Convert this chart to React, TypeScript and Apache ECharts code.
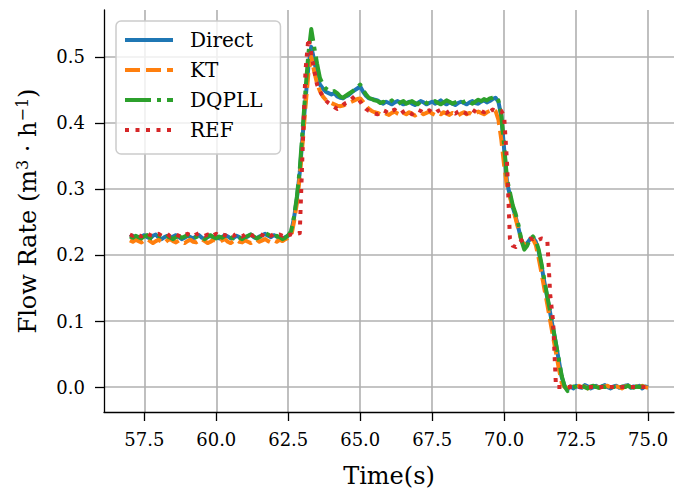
import React, { useEffect, useRef } from "react";
import * as echarts from "echarts";

// sample times (s)
const t = [
  57.0, 57.1, 57.2, 57.3, 57.4, 57.5, 57.6, 57.7, 57.8, 57.9,
  58.0, 58.1, 58.2, 58.3, 58.4, 58.5, 58.6, 58.7, 58.8, 58.9,
  59.0, 59.1, 59.2, 59.3, 59.4, 59.5, 59.6, 59.7, 59.8, 59.9,
  60.0, 60.1, 60.2, 60.3, 60.4, 60.5, 60.6, 60.7, 60.8, 60.9,
  61.0, 61.1, 61.2, 61.3, 61.4, 61.5, 61.6, 61.7, 61.8, 61.9,
  62.0, 62.1, 62.2, 62.3, 62.4, 62.5, 62.6, 62.7, 62.8, 62.9,
  63.0, 63.1, 63.2, 63.3, 63.4, 63.5, 63.6, 63.7, 63.8, 63.9,
  64.0, 64.1, 64.2, 64.3, 64.4, 64.5, 64.6, 64.7, 64.8, 64.9,
  65.0, 65.1, 65.2, 65.3, 65.4, 65.5, 65.6, 65.7, 65.8, 65.9,
  66.0, 66.1, 66.2, 66.3, 66.4, 66.5, 66.6, 66.7, 66.8, 66.9,
  67.0, 67.1, 67.2, 67.3, 67.4, 67.5, 67.6, 67.7, 67.8, 67.9,
  68.0, 68.1, 68.2, 68.3, 68.4, 68.5, 68.6, 68.7, 68.8, 68.9,
  69.0, 69.1, 69.2, 69.3, 69.4, 69.5, 69.6, 69.7, 69.8, 69.9,
  70.0, 70.1, 70.2, 70.3, 70.4, 70.5, 70.6, 70.7, 70.8, 70.9,
  71.0, 71.1, 71.2, 71.3, 71.4, 71.5, 71.6, 71.7, 71.8, 71.9,
  72.0, 72.1, 72.2, 72.3, 72.4, 72.5, 72.6, 72.7, 72.8, 72.9,
  73.0, 73.1, 73.2, 73.3, 73.4, 73.5, 73.6, 73.7, 73.8, 73.9,
  74.0, 74.1, 74.2, 74.3, 74.4, 74.5, 74.6, 74.7, 74.8, 74.9,
  75.0,
];

const direct = [
  // 57.0 - 62.5
  0.227, 0.229, 0.226, 0.224, 0.228, 0.230, 0.227, 0.225, 0.229, 0.231,
  0.226, 0.224, 0.227, 0.229, 0.226, 0.228, 0.230, 0.227, 0.224, 0.226,
  0.229, 0.227, 0.225, 0.228, 0.230, 0.226, 0.224, 0.227, 0.229, 0.226,
  0.228, 0.225, 0.227, 0.230, 0.228, 0.225, 0.226, 0.229, 0.227, 0.224,
  0.226, 0.228, 0.231, 0.227, 0.225, 0.228, 0.230, 0.232, 0.229, 0.227,
  0.230, 0.228, 0.226, 0.225, 0.227, 0.229,
  // 62.6 - 63.4
  0.234, 0.256, 0.285, 0.325, 0.380, 0.435, 0.485, 0.515, 0.495,
  // 63.5 - 65.5
  0.472, 0.458, 0.452, 0.447, 0.445, 0.443, 0.445, 0.440, 0.438, 0.437,
  0.440, 0.442, 0.446, 0.449, 0.452, 0.455, 0.447, 0.441, 0.437, 0.436,
  0.435,
  // 65.6 - 69.9
  0.434, 0.431, 0.429, 0.432, 0.430, 0.428, 0.431, 0.433, 0.430, 0.428,
  0.430, 0.432, 0.429, 0.427, 0.430, 0.433, 0.431, 0.428, 0.430, 0.432,
  0.429, 0.431, 0.434, 0.430, 0.428, 0.431, 0.429, 0.427, 0.430, 0.432,
  0.430, 0.428, 0.431, 0.433, 0.430, 0.429, 0.432, 0.434, 0.431, 0.433,
  0.436, 0.438, 0.432, 0.410,
  // 70.0 - 72.2
  0.360, 0.310, 0.290, 0.272, 0.258, 0.240, 0.222, 0.214, 0.218, 0.224,
  0.226, 0.220, 0.205, 0.183, 0.158, 0.135, 0.112, 0.088, 0.065, 0.040,
  0.015, 0.002, -0.004,
  // 72.3 - 75.0
  0.001, -0.002, 0.002, 0.000, -0.001, 0.003, 0.001, -0.002, 0.000, 0.002,
  -0.001, 0.001, 0.003, 0.000, -0.002, 0.001, 0.002, -0.001, 0.000, 0.002,
  0.003, -0.001, 0.001, 0.000, 0.002, -0.002, 0.001, 0.000,
];

const kt = [
  0.222, 0.220, 0.223, 0.221, 0.219, 0.222, 0.224, 0.221, 0.218, 0.221,
  0.223, 0.220, 0.218, 0.222, 0.224, 0.221, 0.219, 0.222, 0.220, 0.218,
  0.221, 0.223, 0.220, 0.219, 0.222, 0.224, 0.221, 0.218, 0.220, 0.223,
  0.221, 0.219, 0.222, 0.224, 0.220, 0.218, 0.221, 0.223, 0.220, 0.219,
  0.222, 0.220, 0.218, 0.221, 0.223, 0.220, 0.222, 0.224, 0.221, 0.219,
  0.222, 0.220, 0.223, 0.221, 0.224, 0.226,
  0.228, 0.250, 0.278, 0.318, 0.370, 0.425, 0.475, 0.500, 0.478,
  0.460, 0.448, 0.440, 0.435, 0.432, 0.430, 0.428, 0.426, 0.425, 0.426,
  0.428, 0.430, 0.432, 0.434, 0.436, 0.437, 0.432, 0.426, 0.421, 0.418,
  0.416,
  0.415, 0.413, 0.416, 0.414, 0.412, 0.415, 0.417, 0.414, 0.412, 0.415,
  0.413, 0.416, 0.414, 0.411, 0.414, 0.416, 0.413, 0.415, 0.417, 0.414,
  0.412, 0.415, 0.413, 0.416, 0.414, 0.412, 0.415, 0.413, 0.411, 0.414,
  0.416, 0.413, 0.415, 0.412, 0.414, 0.417, 0.415, 0.413, 0.416, 0.418,
  0.420, 0.418, 0.405, 0.375,
  0.335, 0.305, 0.288, 0.270, 0.255, 0.238, 0.222, 0.215, 0.218, 0.223,
  0.224, 0.215, 0.195, 0.172, 0.148, 0.125, 0.100, 0.076, 0.052, 0.028,
  0.006, 0.000, -0.002,
  0.001, 0.000, -0.001, 0.002, 0.000, 0.001, -0.002, 0.000, 0.002, 0.001,
  -0.001, 0.000, 0.001, 0.002, -0.001, 0.000, 0.001, 0.000, -0.002, 0.001,
  0.002, 0.000, -0.001, 0.001, 0.000, 0.002, 0.000, -0.001,
];

const dqpll = [
  0.228, 0.226, 0.229, 0.227, 0.225, 0.228, 0.230, 0.226, 0.224, 0.227,
  0.229, 0.227, 0.225, 0.228, 0.226, 0.224, 0.227, 0.229, 0.226, 0.228,
  0.230, 0.227, 0.225, 0.227, 0.229, 0.226, 0.224, 0.228, 0.230, 0.227,
  0.225, 0.228, 0.226, 0.229, 0.231, 0.227, 0.225, 0.228, 0.226, 0.224,
  0.227, 0.229, 0.231, 0.228, 0.225, 0.227, 0.229, 0.233, 0.231, 0.228,
  0.226, 0.229, 0.227, 0.224, 0.226, 0.230,
  0.236, 0.258, 0.288, 0.330, 0.390, 0.450, 0.505, 0.542, 0.515,
  0.490, 0.468, 0.458, 0.452, 0.449, 0.447, 0.448, 0.445, 0.440, 0.438,
  0.441, 0.444, 0.447, 0.450, 0.454, 0.458, 0.450, 0.443, 0.438, 0.436,
  0.434,
  0.433, 0.430, 0.432, 0.429, 0.431, 0.434, 0.430, 0.428, 0.431, 0.433,
  0.429, 0.431, 0.433, 0.430, 0.428, 0.432, 0.434, 0.430, 0.429, 0.431,
  0.433, 0.430, 0.428, 0.431, 0.434, 0.432, 0.429, 0.431, 0.433, 0.430,
  0.432, 0.434, 0.431, 0.429, 0.432, 0.435, 0.433, 0.436, 0.434, 0.437,
  0.438, 0.440, 0.434, 0.412,
  0.365, 0.315, 0.295, 0.275, 0.262, 0.245, 0.222, 0.208, 0.214, 0.224,
  0.228, 0.222, 0.208, 0.186, 0.161, 0.137, 0.114, 0.090, 0.066, 0.042,
  0.017, 0.001, -0.006,
  -0.003, 0.001, 0.000, -0.001, 0.002, 0.000, -0.002, 0.001, 0.002, 0.000,
  -0.001, 0.001, 0.000, 0.002, -0.001, 0.000, 0.001, -0.002, 0.001, 0.000,
  0.002, 0.000, -0.001, 0.001, 0.000, 0.001, -0.001, 0.000,
];

const ref = [
  0.231, 0.229, 0.232, 0.230, 0.228, 0.231, 0.233, 0.230, 0.229, 0.231,
  0.232, 0.229, 0.230, 0.232, 0.228, 0.230, 0.231, 0.229, 0.227, 0.230,
  0.232, 0.230, 0.228, 0.231, 0.233, 0.230, 0.229, 0.231, 0.228, 0.230,
  0.232, 0.229, 0.231, 0.230, 0.228, 0.231, 0.229, 0.232, 0.230, 0.228,
  0.231, 0.233, 0.230, 0.229, 0.231, 0.232, 0.230, 0.228, 0.231, 0.229,
  0.232, 0.230, 0.231, 0.229, 0.232, 0.230,
  0.231, 0.229, 0.232, 0.233, 0.360, 0.480, 0.528, 0.505, 0.480,
  0.458, 0.448, 0.440, 0.434, 0.430, 0.427, 0.424, 0.421, 0.423, 0.427,
  0.430, 0.432, 0.436, 0.440, 0.438, 0.432, 0.426, 0.421, 0.418, 0.416,
  0.414,
  0.413, 0.416, 0.419, 0.417, 0.414, 0.418, 0.420, 0.416, 0.414, 0.417,
  0.419, 0.416, 0.413, 0.417, 0.420, 0.418, 0.415, 0.417, 0.419, 0.416,
  0.414, 0.418, 0.420, 0.417, 0.415, 0.418, 0.416, 0.414, 0.417, 0.419,
  0.416, 0.414, 0.418, 0.420, 0.417, 0.415, 0.418, 0.416, 0.419, 0.417,
  0.420, 0.418, 0.419, 0.418,
  0.410, 0.340, 0.225, 0.214, 0.212, 0.218, 0.222, 0.224, 0.223, 0.225,
  0.224, 0.226, 0.223, 0.225, 0.224, 0.222, 0.140, 0.100, 0.000, 0.000,
  0.000, 0.000, 0.000,
  0.000, 0.000, 0.000, 0.000, 0.000, 0.000, 0.000, 0.000, 0.000, 0.000,
  0.000, 0.000, 0.000, 0.000, 0.000, 0.000, 0.000, 0.000, 0.000, 0.000,
  0.000, 0.000, 0.000, 0.000, 0.000, 0.000, 0.000, 0.000,
];

const seriesNames = ["Direct", "KT", "DQPLL", "REF"];
const seriesColors = ["#1f77b4", "#ff7f0e", "#2ca02c", "#d62728"];
const xTicks = [57.5, 60.0, 62.5, 65.0, 67.5, 70.0, 72.5, 75.0];
const yTicks = [0.0, 0.1, 0.2, 0.3, 0.4, 0.5];

const FONT = "DejaVu Serif";

export default function App() {
  const ref1 = useRef<HTMLDivElement>(null);
  useEffect(() => {
    if (!ref1.current) return;
    const chart = echarts.init(ref1.current, null, { renderer: "svg" });
    const allValues = [direct, kt, dqpll, ref];
    const dashes: any[] = ["solid", [15, 6], [26, 6, 4, 6], [4, 6.5]];
    const series = seriesNames.map((name, k) => ({
      name,
      type: "line",
      data: t.map((x, i) => [x, allValues[k][i]]),
      symbol: "none",
      showSymbol: false,
      color: seriesColors[k],
      lineStyle: { color: seriesColors[k], width: 4, type: dashes[k], cap: "butt", join: "round" },
      z: 2 + k,
    }));
    chart.setOption({
      animation: false,
      backgroundColor: "#ffffff",
      textStyle: { fontFamily: FONT },
      grid: { left: 104, top: 10, width: 570, height: 404, containLabel: false },
      legend: {
        left: 116,
        top: 21,
        orient: "vertical",
        itemWidth: 48,
        itemHeight: 14,
        itemGap: 10,
        padding: [9, 18, 14, 7],
        backgroundColor: "rgba(255,255,255,0.8)",
        borderColor: "#cccccc",
        borderWidth: 1.5,
        borderRadius: 5,
        itemStyle: { opacity: 0 },
        lineStyle: { width: 4 },
        textStyle: { fontFamily: FONT, fontSize: 20, color: "#000", lineHeight: 20, padding: [0, 0, 0, 12] },
        data: seriesNames,
      },
      xAxis: {
        type: "value",
        min: 56.1,
        max: 75.9,
        name: "Time(s)",
        nameLocation: "middle",
        nameGap: 52,
        nameTextStyle: { fontFamily: FONT, fontSize: 24, color: "#000" },
        axisLine: { show: true, onZero: false, lineStyle: { color: "#000", width: 1.3 } },
        axisTick: { show: true, length: 9, customValues: xTicks, lineStyle: { color: "#000", width: 1.3 } },
        axisLabel: {
          customValues: xTicks,
          margin: 18,
          fontFamily: FONT,
          fontSize: 18,
          color: "#000",
          formatter: (v: number) => v.toFixed(1),
        },
        splitLine: { show: true, lineStyle: { color: "#b0b0b0", width: 1.6 } },
      },
      yAxis: {
        type: "value",
        min: -0.0377,
        max: 0.5708,
        name: "Flow Rate (m{sup|3} · h{sup|−1})",
        nameLocation: "middle",
        nameGap: 62,
        nameRotate: 90,
        nameTextStyle: {
          fontFamily: FONT,
          fontSize: 24,
          color: "#000",
          lineHeight: 28,
          rich: { sup: { fontFamily: FONT, fontSize: 16, color: "#000", verticalAlign: "top", lineHeight: 16 } },
        },
        axisLine: { show: true, lineStyle: { color: "#000", width: 1.3 } },
        axisTick: { show: true, length: 9, customValues: yTicks, lineStyle: { color: "#000", width: 1.3 } },
        axisLabel: {
          customValues: yTicks,
          margin: 19,
          fontFamily: FONT,
          fontSize: 18,
          color: "#000",
          formatter: (v: number) => v.toFixed(1),
        },
        splitLine: { show: true, lineStyle: { color: "#b0b0b0", width: 1.6 } },
      },
      series,
    });
    return () => chart.dispose();
  }, []);
  return <div ref={ref1} style={{ width: 684, height: 493, position: "absolute", left: 0, top: 0 }} />;
}
